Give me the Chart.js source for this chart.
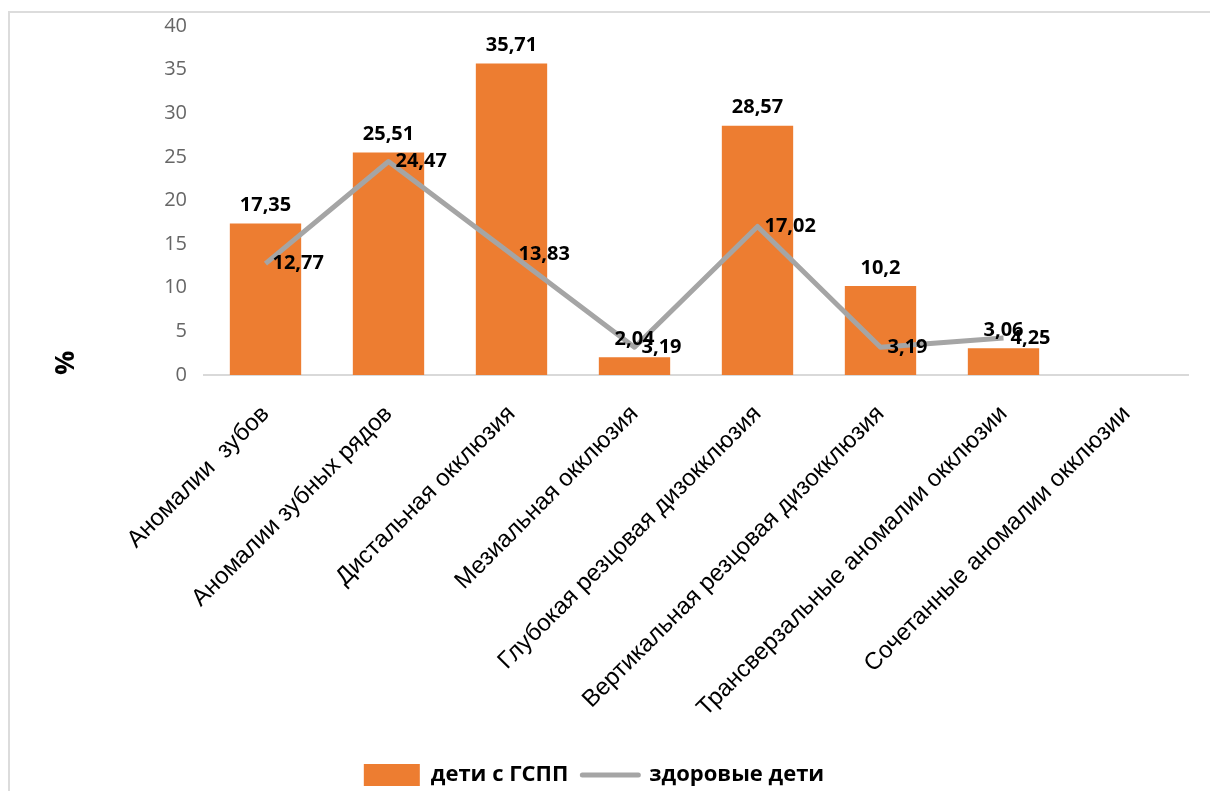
<!DOCTYPE html>
<html lang="ru">
<head>
<meta charset="utf-8">
<title>Аномалии окклюзии</title>
<script src="https://cdn.jsdelivr.net/npm/chart.js@4/dist/chart.umd.min.js"></script>
<style>
  html, body { margin: 0; padding: 0; background: #fff; overflow: hidden; }
  #marco { position: absolute; left: 8px; top: 11px; width: 1400px; height: 1000px; border: 2px solid #dcdcdc; box-sizing: border-box; }
  #grafico { position: absolute; left: 0; top: 0; }
</style>
</head>
<body>
<div id="marco"></div>
<canvas id="grafico" width="1210" height="791"></canvas>
<script>
// Categorías del eje X
var categorias = [
    "Аномалии  зубов",
    "Аномалии зубных рядов",
    "Дистальная окклюзия",
    "Мезиальная окклюзия",
    "Глубокая резцовая дизокклюзия",
    "Вертикальная резцовая дизокклюзия",
    "Трансверзальные аномалии окклюзии",
    "Сочетанные аномалии окклюзии"
];

// Series (en %)
var ninosGSPP = [17.35, 25.51, 35.71, 2.04, 28.57, 10.2, 3.06, null];
var ninosSanos = [12.77, 24.47, 13.83, 3.19, 17.02, 3.19, 4.25, null];
var nombresSeries = ["дети с ГСПП", "здоровые дети"];

// Marcas del eje Y
var ticksY = [0, 5, 10, 15, 20, 25, 30, 35, 40];

var naranja = "#ED7D31";
var gris = "#A5A5A5";

// Formato con coma decimal, como en el original
function formatear(v) {
    return String(v).replace(".", ",");
}

// Plugin para escribir los valores encima de barras y junto a los puntos
var etiquetasDatos = {
    id: "etiquetasDatos",
    afterDatasetsDraw: function(chart) {
        var ctx = chart.ctx;
        ctx.save();
        ctx.font = 'bold 20px "Open Sans"';
        ctx.fillStyle = "#000";
        chart.data.datasets.forEach(function(ds, i) {
            var meta = chart.getDatasetMeta(i);
            meta.data.forEach(function(el, j) {
                var v = ds.data[j];
                if (v === null || v === undefined) return;
                if (ds.type === "bar") {
                    ctx.textAlign = "center";
                    ctx.textBaseline = "bottom";
                    ctx.fillText(formatear(v), el.x, el.y - 8);
                } else {
                    ctx.textAlign = "left";
                    ctx.textBaseline = "middle";
                    ctx.fillText(formatear(v), el.x + 7, el.y);
                }
            });
        });
        ctx.restore();
    }
};

Chart.defaults.font.family = '"Open Sans", sans-serif';

var ctx = document.getElementById("grafico").getContext("2d");

new Chart(ctx, {
    type: "bar",
    data: {
        labels: categorias,
        datasets: [
            {
                type: "bar",
                label: nombresSeries[0],
                data: ninosGSPP,
                backgroundColor: naranja,
                borderWidth: 0,
                categoryPercentage: 1,
                barPercentage: 0.58,
                order: 1
            },
            {
                type: "line",
                label: nombresSeries[1],
                data: ninosSanos,
                borderColor: gris,
                backgroundColor: gris,
                borderWidth: 5,
                borderJoinStyle: "round",
                pointRadius: 0,
                pointHoverRadius: 0,
                tension: 0,
                spanGaps: false,
                order: 0
            }
        ]
    },
    options: {
        responsive: false,
        animation: false,
        layout: { padding: { top: 26, right: 22, bottom: -5, left: 0 } },
        plugins: {
            tooltip: { enabled: false },
            legend: {
                position: "bottom",
                labels: {
                    usePointStyle: true,
                    pointStyleWidth: 56,
                    boxHeight: 22,
                    padding: 14,
                    color: "#000",
                    font: { family: '"Open Sans"', size: 22, weight: "bold" },
                    generateLabels: function(chart) {
                        return chart.data.datasets.map(function(ds, i) {
                            var esLinea = ds.type === "line";
                            return {
                                text: ds.label,
                                datasetIndex: i,
                                fillStyle: esLinea ? "rgba(0,0,0,0)" : ds.backgroundColor,
                                strokeStyle: esLinea ? ds.borderColor : ds.backgroundColor,
                                lineWidth: esLinea ? 5 : 0,
                                lineCap: "round",
                                pointStyle: esLinea ? "line" : "rect",
                                fontColor: "#000",
                                hidden: !chart.isDatasetVisible(i)
                            };
                        });
                    }
                }
            }
        },
        scales: {
            x: {
                grid: { display: false },
                border: { display: true, color: "#d9d9d9", width: 2 },
                ticks: {
                    autoSkip: false,
                    minRotation: 45,
                    maxRotation: 45,
                    padding: 17,
                    color: "#000",
                    font: { family: '"Liberation Sans"', size: 24 }
                },
                afterFit: function(scale) {
                    scale.height = 375;
                }
            },
            y: {
                min: 0,
                max: 40,
                grid: { display: false },
                border: { display: false },
                ticks: {
                    padding: 9,
                    color: "#666666",
                    font: { family: '"Open Sans"', size: 20 }
                },
                afterBuildTicks: function(scale) {
                    scale.ticks = ticksY.map(function(v) { return { value: v }; });
                },
                title: {
                    display: true,
                    text: "%",
                    align: "start",
                    color: "#000",
                    font: { family: '"Open Sans"', size: 27, weight: "bold" },
                    padding: { top: 50, bottom: 0 }
                },
                afterFit: function(scale) {
                    scale.width = 204;
                }
            }
        }
    },
    plugins: [etiquetasDatos]
});
</script>
</body>
</html>
